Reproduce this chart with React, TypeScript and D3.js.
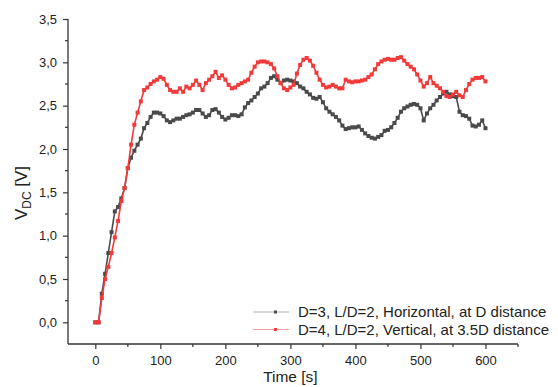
import React, { useRef, useEffect } from 'react';
import * as d3 from 'd3';

// time axis, one reading every 5 s
const times: number[] = d3.range(0, 605, 5);

// D=3, L/D=2, Horizontal, at D distance
const blackSeries: number[] = [
  0, 0, 0.33, 0.56, 0.8, 1.04, 1.28, 1.33, 1.43, 1.55,
  1.78, 1.9, 1.98, 2.05, 2.12, 2.24, 2.3, 2.37, 2.42, 2.42,
  2.41, 2.38, 2.33, 2.31, 2.33, 2.35, 2.35, 2.37, 2.39, 2.4,
  2.42, 2.45, 2.45, 2.41, 2.37, 2.39, 2.45, 2.46, 2.42, 2.37,
  2.34, 2.36, 2.39, 2.39, 2.38, 2.4, 2.48, 2.53, 2.56, 2.6,
  2.64, 2.7, 2.72, 2.76, 2.82, 2.84, 2.8, 2.76, 2.79, 2.8,
  2.79, 2.78, 2.76, 2.72, 2.7, 2.66, 2.63, 2.59, 2.58, 2.6,
  2.54, 2.47, 2.43, 2.4, 2.37, 2.33, 2.27, 2.23, 2.24, 2.25,
  2.25, 2.26, 2.22, 2.18, 2.15, 2.13, 2.12, 2.14, 2.16, 2.21,
  2.22, 2.25, 2.3, 2.36, 2.43, 2.47, 2.49, 2.51, 2.52, 2.51,
  2.47, 2.33, 2.41, 2.47, 2.51, 2.56, 2.6, 2.64, 2.66, 2.63,
  2.61, 2.6, 2.43, 2.39, 2.38, 2.35, 2.27, 2.26, 2.28, 2.33,
  2.24,
];

// D=4, L/D=2, Vertical, at 3.5D distance
const redSeries: number[] = [
  0, 0, 0.28, 0.5, 0.64, 0.8, 0.98, 1.17, 1.4, 1.55,
  1.78, 2.05, 2.28, 2.42, 2.55, 2.68, 2.71, 2.75, 2.78, 2.8,
  2.83, 2.81, 2.74, 2.68, 2.66, 2.66, 2.7, 2.66, 2.72, 2.7,
  2.74, 2.79, 2.74, 2.68, 2.76, 2.8, 2.84, 2.89, 2.82, 2.85,
  2.8, 2.74, 2.7, 2.71, 2.74, 2.76, 2.78, 2.8, 2.88, 2.95,
  3.0, 3.01, 3.01, 3.0, 2.98, 2.93, 2.84, 2.76, 2.7, 2.68,
  2.71, 2.74, 2.87, 2.97, 3.03, 3.05, 3.02, 2.96, 2.88, 2.8,
  2.74, 2.71, 2.72, 2.74, 2.72, 2.7, 2.7, 2.8, 2.78, 2.77,
  2.78, 2.78, 2.79, 2.8, 2.83, 2.86, 2.92, 2.98, 3.01, 3.03,
  3.04, 3.03, 3.03, 3.05, 3.06, 3.02, 2.98, 2.95, 2.92, 2.86,
  2.79, 2.72, 2.76, 2.83, 2.76, 2.73, 2.7, 2.66, 2.61, 2.6,
  2.63, 2.66, 2.62, 2.6, 2.68, 2.75, 2.8, 2.82, 2.82, 2.83,
  2.78,
];

const seriesNames: string[] = [
  'D=3, L/D=2, Horizontal, at D distance',
  'D=4, L/D=2, Vertical, at 3.5D distance',
];
const seriesColors: string[] = ['#4a4a4a', '#f23a3a'];

const xTicks: number[] = [0, 100, 200, 300, 400, 500, 600];
const yTicks: number[] = [0, 0.5, 1, 1.5, 2, 2.5, 3, 3.5];

function App() {
  const svgRef = useRef<SVGSVGElement>(null);

  useEffect(() => {
    const width = 558;
    const height = 387;
    const font = '"Liberation Sans", Arial, sans-serif';
    const axisColor = '#333';

    const x = d3.scaleLinear().domain([-42, 650]).range([68, 518]);
    const y = d3.scaleLinear().domain([-0.25, 3.5]).range([344, 19]);

    const svg = d3.select(svgRef.current);
    svg.selectAll('*').remove();
    svg.attr('width', width).attr('height', height)
      .attr('viewBox', [0, 0, width, height].join(' '))
      .style('font-family', font);

    svg.append('rect').attr('width', width).attr('height', height).attr('fill', 'white');

    // series
    const allSeries = [blackSeries, redSeries];
    allSeries.forEach((vals, i) => {
      const pts = times.map((t, j) => [t, vals[j]] as [number, number]);
      const line = d3.line<[number, number]>().x(d => x(d[0])).y(d => y(d[1]));
      const g = svg.append('g');
      g.append('path')
        .attr('d', line(pts))
        .attr('fill', 'none')
        .attr('stroke', seriesColors[i])
        .attr('stroke-width', 1.6);
      g.selectAll('rect')
        .data(pts)
        .join('rect')
        .attr('x', d => x(d[0]) - 2)
        .attr('y', d => y(d[1]) - 2)
        .attr('width', 4)
        .attr('height', 4)
        .attr('fill', seriesColors[i]);
    });

    // x axis
    const xAxis = svg.append('g').attr('transform', 'translate(0,344)');
    xAxis.call(
      d3.axisBottom(x).tickValues(xTicks).tickSize(5).tickSizeOuter(0).tickPadding(7)
        .tickFormat(d => String(d))
    );
    xAxis.append('g').selectAll('line')
      .data(d3.range(50, 700, 100))
      .join('line')
      .attr('x1', d => x(d)).attr('x2', d => x(d))
      .attr('y1', 0).attr('y2', 3)
      .attr('stroke', axisColor).attr('stroke-width', 1.2);
    xAxis.select('.domain').attr('stroke', axisColor).attr('stroke-width', 1.3)
      .attr('d', `M68,0H518`);
    xAxis.selectAll('.tick line').attr('stroke', axisColor).attr('stroke-width', 1.2);
    xAxis.selectAll('.tick text').attr('fill', '#222').style('font-size', '13px').style('font-family', font);

    // y axis
    const yAxis = svg.append('g').attr('transform', 'translate(68,0)');
    yAxis.call(
      d3.axisLeft(y).tickValues(yTicks).tickSize(5).tickSizeOuter(0).tickPadding(6)
        .tickFormat(d => d3.format('.1f')(d as number).replace('.', ','))
    );
    yAxis.append('g').selectAll('line')
      .data(d3.range(0.25, 3.5, 0.5))
      .join('line')
      .attr('x1', 0).attr('x2', -3)
      .attr('y1', d => y(d)).attr('y2', d => y(d))
      .attr('stroke', axisColor).attr('stroke-width', 1.2);
    yAxis.select('.domain').attr('stroke', axisColor).attr('stroke-width', 1.3)
      .attr('d', `M0,344V19`);
    yAxis.selectAll('.tick line').attr('stroke', axisColor).attr('stroke-width', 1.2);
    yAxis.selectAll('.tick text').attr('fill', '#222').style('font-size', '13px').style('font-family', font);

    // axis titles
    svg.append('text')
      .attr('x', x(300)).attr('y', 382)
      .attr('text-anchor', 'middle')
      .attr('fill', '#222')
      .style('font-size', '15.5px')
      .text('Time [s]');

    const yTitle = svg.append('text')
      .attr('transform', 'translate(27,193) rotate(-90)')
      .attr('text-anchor', 'middle')
      .attr('fill', '#222')
      .style('font-size', '17px');
    yTitle.append('tspan').text('V');
    yTitle.append('tspan').attr('dy', 4).style('font-size', '12px').text('DC');
    yTitle.append('tspan').attr('dy', -4).text(' [V]');

    // legend
    const legend = svg.append('g');
    seriesNames.forEach((name, i) => {
      const ly = 312 + i * 17.5;
      legend.append('line')
        .attr('x1', 253).attr('x2', 289)
        .attr('y1', ly).attr('y2', ly)
        .attr('stroke', i === 0 ? '#9a9a9a' : '#f58a8a')
        .attr('stroke-width', 0.8);
      legend.append('rect')
        .attr('x', 274).attr('y', ly - 1.5)
        .attr('width', 3).attr('height', 3)
        .attr('fill', seriesColors[i]);
      legend.append('text')
        .attr('x', 298).attr('y', ly + 5)
        .attr('fill', '#222')
        .style('font-size', '15px')
        .text(name);
    });
  }, []);

  return (
    <div style={{ position: 'absolute', left: 0, top: 0 }}>
      <svg ref={svgRef}></svg>
    </div>
  );
}

export default App;
